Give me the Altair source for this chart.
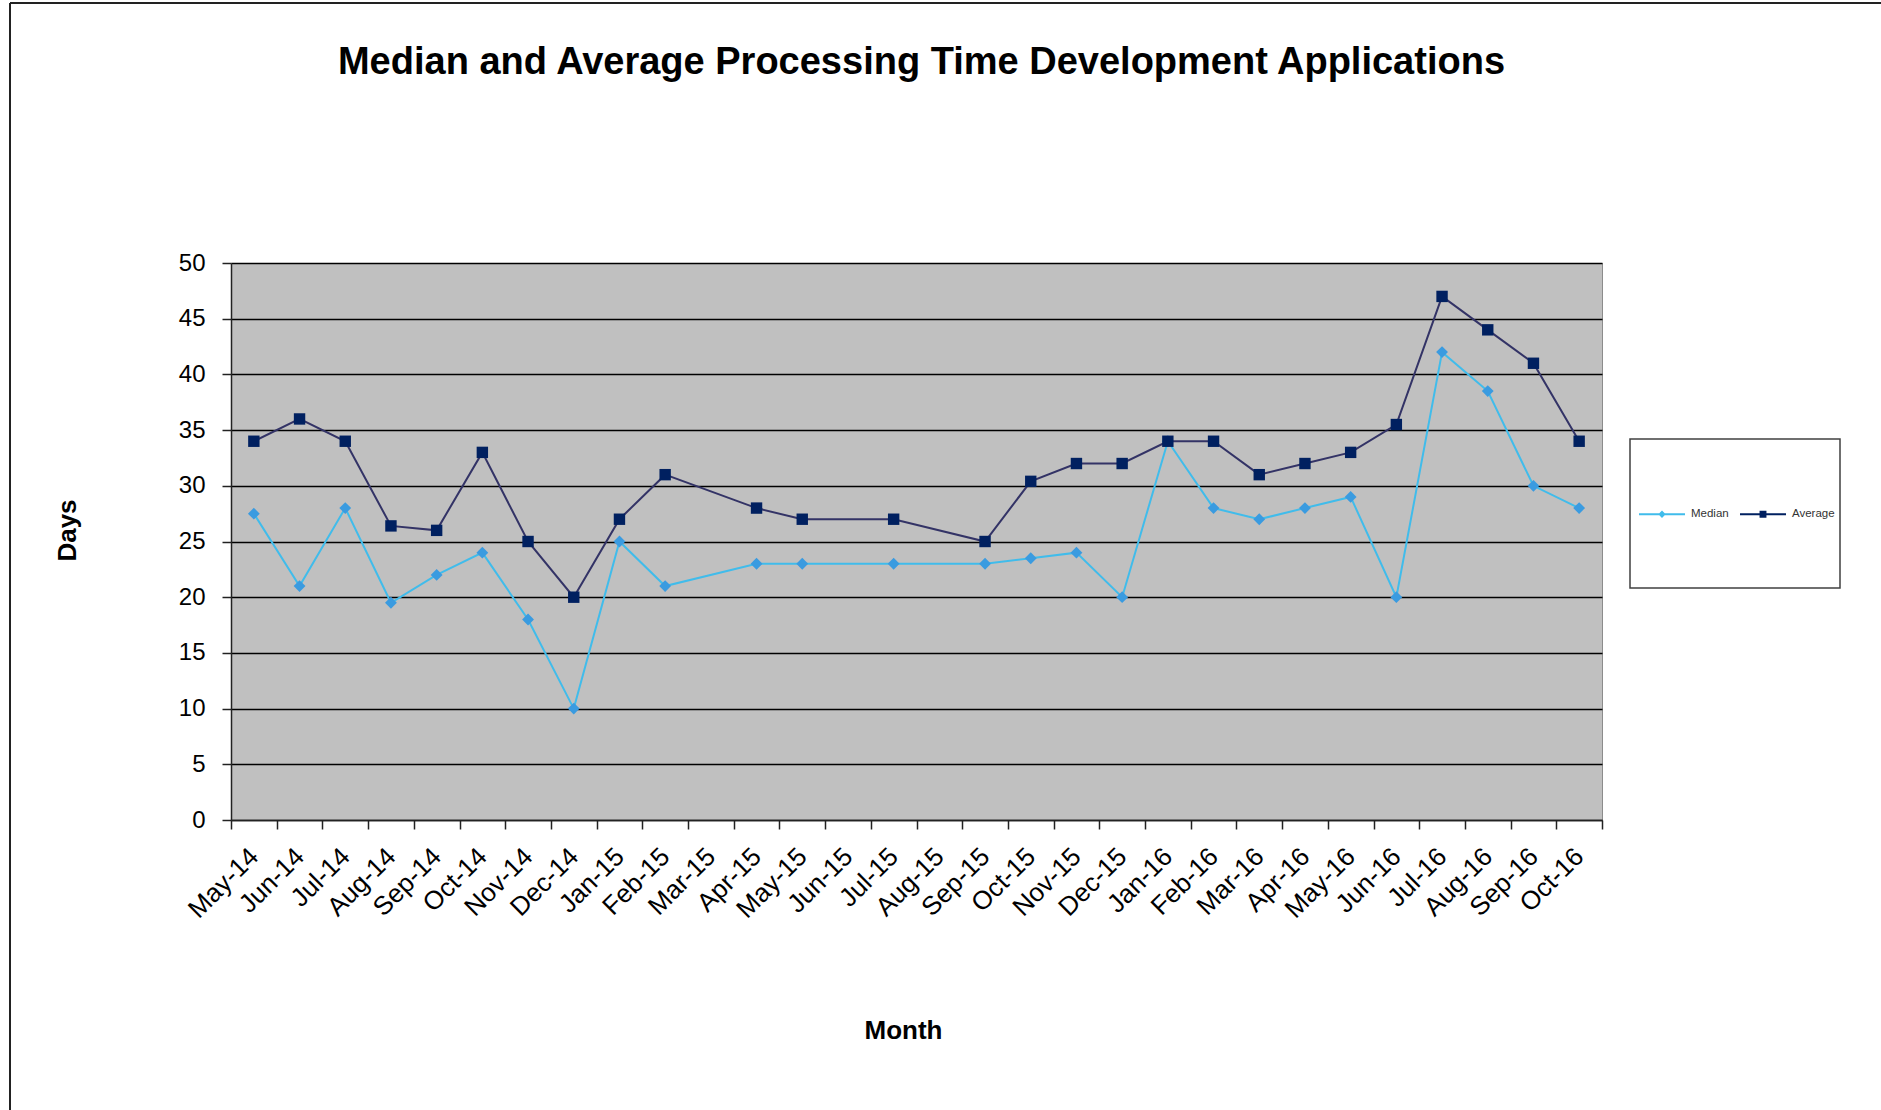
import altair as alt
import pandas as pd

# Monthly processing time (days) for development applications
months = [
    "May-14", "Jun-14", "Jul-14", "Aug-14", "Sep-14", "Oct-14", "Nov-14", "Dec-14",
    "Jan-15", "Feb-15", "Mar-15", "Apr-15", "May-15", "Jun-15", "Jul-15", "Aug-15",
    "Sep-15", "Oct-15", "Nov-15", "Dec-15",
    "Jan-16", "Feb-16", "Mar-16", "Apr-16", "May-16", "Jun-16", "Jul-16", "Aug-16",
    "Sep-16", "Oct-16",
]
median_days = [
    27.5, 21, 28, 19.5, 22, 24, 18, 10,
    25, 21, None, 23, 23, None, 23, None, 23, 23.5, 24, 20,
    34, 28, 27, 28, 29, 20, 42, 38.5, 30, 28,
]
average_days = [
    34, 36, 34, 26.4, 26, 33, 25, 20,
    27, 31, None, 28, 27, None, 27, None, 25, 30.4, 32, 32,
    34, 34, 31, 32, 33, 35.5, 47, 44, 41, 34,
]
series_names = ["Median", "Average"]
y_ticks = list(range(0, 55, 5))

FONT = "Liberation Sans"
MEDIAN_LINE = "#40BCEB"
MEDIAN_MARK = "#3A9BE0"
AVERAGE_LINE = "#333366"
AVERAGE_MARK = "#002060"

rows = []
for m, med, avg in zip(months, median_days, average_days):
    if med is not None:
        rows.append({"Month": m, "Series": "Median", "Days": med})
    if avg is not None:
        rows.append({"Month": m, "Series": "Average", "Days": avg})
df = pd.DataFrame(rows)

PLOT_W, PLOT_H = 1371, 557

x_enc = alt.X(
    "Month:N",
    sort=months,
    scale=alt.Scale(type="band", domain=months, paddingInner=0, paddingOuter=0),
    axis=alt.Axis(
        title="Month",
        tickBand="extent",
        labelAngle=-45,
        labelAlign="right",
        labelBaseline="middle",
        labelPadding=23,
        labelFontSize=26,
        labelFont=FONT,
        labelColor="#000000",
        tickSize=9,
        tickColor="#222222",
        tickWidth=1.5,
        domainColor="#222222",
        domainWidth=1.5,
        grid=False,
        titleFont=FONT,
        titleFontSize=26,
        titleFontWeight="bold",
        titleColor="#000000",
        titleX=672,
        titleY=218,
        titleAlign="center",
        titleBaseline="alphabetic",
    ),
)
y_enc = alt.Y(
    "Days:Q",
    scale=alt.Scale(domain=[0, 50], nice=False, zero=True),
    axis=alt.Axis(
        title="Days",
        values=y_ticks,
        labelFontSize=24,
        labelFont=FONT,
        labelColor="#000000",
        labelPadding=17,
        tickSize=9,
        tickColor="#222222",
        tickWidth=1.5,
        domainColor="#222222",
        domainWidth=1.5,
        grid=True,
        gridColor="#000000",
        gridWidth=1.3,
        titleFont=FONT,
        titleFontSize=26,
        titleFontWeight="bold",
        titleColor="#000000",
        titleAngle=-90,
        titleX=-164,
        titleY=267,
        titleAlign="center",
        titleBaseline="middle",
    ),
)

base = alt.Chart(df)

median_line = base.transform_filter("datum.Series == 'Median'").mark_line(
    color=MEDIAN_LINE, strokeWidth=2
).encode(x=x_enc, y=y_enc)
median_pts = base.transform_filter("datum.Series == 'Median'").mark_point(
    shape="diamond", filled=True, size=140, color=MEDIAN_MARK, opacity=1
).encode(x=x_enc, y=y_enc)
average_line = base.transform_filter("datum.Series == 'Average'").mark_line(
    color=AVERAGE_LINE, strokeWidth=2
).encode(x=x_enc, y=y_enc)
average_pts = base.transform_filter("datum.Series == 'Average'").mark_point(
    shape="square", filled=True, size=130, color=AVERAGE_MARK, opacity=1
).encode(x=x_enc, y=y_enc)

# Legend box
box = alt.Chart(pd.DataFrame({"k": [0]})).mark_rect(
    fill="#ffffff", stroke="#404040", strokeWidth=1.5
).encode(
    x=alt.value(1399), x2=alt.value(1609), y=alt.value(176), y2=alt.value(325)
)

# Legend symbols: a line with the series marker in its middle
median_sym = "M-1,-0.04L1,-0.04L1,0.04L-1,0.04Z M0,-0.16L0.16,0L0,0.16L-0.16,0Z"
average_sym = "M-1,-0.04L1,-0.04L1,0.04L-1,0.04Z M-0.15,-0.15L0.15,-0.15L0.15,0.15L-0.15,0.15Z"

legend_layer = base.transform_filter("false").mark_point(
    filled=True, opacity=1
).encode(
    x=x_enc,
    y=y_enc,
    color=alt.Color(
        "Series:N",
        scale=alt.Scale(domain=series_names, range=[MEDIAN_LINE, AVERAGE_MARK]),
        legend=alt.Legend(
            title=None,
            orient="none",
            legendX=1408,
            legendY=228,
            direction="horizontal",
            symbolSize=2116,
            symbolStrokeWidth=0,
            labelFont=FONT,
            labelFontSize=11.5,
            labelColor="#333333",
            labelOffset=6,
            columnPadding=11,
            padding=0,
        ),
    ),
    shape=alt.Shape(
        "Series:N",
        scale=alt.Scale(domain=series_names, range=[median_sym, average_sym]),
    ),
)

# Outer frame lines
frame_left = alt.Chart(pd.DataFrame({"k": [0]})).mark_rule(
    color="#222222", strokeWidth=2
).encode(x=alt.value(-221), y=alt.value(-260), y2=alt.value(850))
frame_top = alt.Chart(pd.DataFrame({"k": [0]})).mark_rule(
    color="#222222", strokeWidth=2
).encode(x=alt.value(-221), x2=alt.value(1655), y=alt.value(-260))

chart = alt.layer(
    median_line, median_pts, average_line, average_pts,
    box, legend_layer, frame_left, frame_top,
).properties(
    width=PLOT_W,
    height=PLOT_H,
    background="#ffffff",
    title=alt.Title(
        "Median and Average Processing Time Development Applications",
        font=FONT,
        fontSize=38,
        fontWeight="bold",
        color="#000000",
        anchor="middle",
        frame="group",
        baseline="alphabetic",
        offset=0,
        dy=110,
        dx=5,
    ),
    padding={"left": 231, "top": 263, "right": 279, "bottom": 290},
    autosize=alt.AutoSizeParams(type="none"),
).configure_view(
    fill="#C0C0C0", stroke="#8c8c8c", strokeWidth=1
)

chart.save("out.html", embed_options={"renderer": "svg", "actions": False})
